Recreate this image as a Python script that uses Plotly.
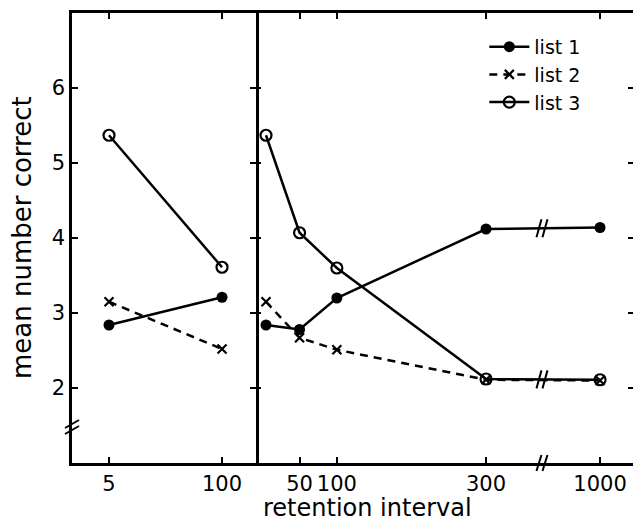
import plotly.graph_objects as go

# ---------------- data ----------------
left_x = [5, 100]
left_list1 = [2.84, 3.21]
left_list2 = [3.15, 2.52]
left_list3 = [5.37, 3.61]

right_x = [5, 50, 100, 300, 1000]
right_list1 = [2.84, 2.78, 3.20, 4.12, 4.14]
right_list2 = [3.15, 2.67, 2.51, 2.11, 2.10]
right_list3 = [5.37, 4.07, 3.60, 2.12, 2.11]

y_ticks = [2, 3, 4, 5, 6]
left_ticks = [5, 100]
right_ticks = [50, 100, 300, 1000]
series_names = ["list 1", "list 2", "list 3"]

# broken x-axis for the right panel: values above 300 are compressed
BREAK_AT = 300
COMPRESS = 0.2183


def brk(v):
    return v if v <= BREAK_AT else BREAK_AT + (v - BREAK_AT) * COMPRESS


BREAK_MARK_X = 375  # display position of the axis break

FONT = "DejaVu Sans"
BLACK = "black"
LW = 2.5

styles = [
    dict(line=dict(color=BLACK, width=LW, dash="solid"),
         marker=dict(symbol="circle", size=11, color=BLACK)),
    dict(line=dict(color=BLACK, width=LW, dash="8px,6px"),
         marker=dict(symbol="x-thin", size=9, line=dict(color=BLACK, width=2.2))),
    dict(line=dict(color=BLACK, width=LW, dash="solid"),
         marker=dict(symbol="circle-open", size=11, color=BLACK, line=dict(width=2.2))),
]

fig = go.Figure()

left_series = [left_list1, left_list2, left_list3]
right_series = [right_list1, right_list2, right_list3]

for i, (name, ys) in enumerate(zip(series_names, left_series)):
    fig.add_trace(go.Scatter(x=left_x, y=ys, mode="lines+markers", name=name,
                             showlegend=False, xaxis="x", yaxis="y",
                             cliponaxis=False, **styles[i]))

for i, (name, ys) in enumerate(zip(series_names, right_series)):
    fig.add_trace(go.Scatter(x=[brk(v) for v in right_x], y=ys, mode="lines+markers",
                             name=name, showlegend=True, xaxis="x2", yaxis="y2",
                             cliponaxis=False, **styles[i]))

# right-hand tick marks (no axis line)
fig.add_trace(go.Scatter(x=[None], y=[None], xaxis="x2", yaxis="y3",
                         showlegend=False, hoverinfo="skip"))

DIV = (256 - 72) / 561.0

axis_common = dict(linecolor=BLACK, linewidth=2.5, ticks="inside",
                   tickcolor=BLACK, tickwidth=2, showgrid=False, zeroline=False,
                   tickfont=dict(family=FONT, size=21, color=BLACK))

fig.update_layout(
    width=633, height=524,
    margin=dict(l=72, r=0, t=13, b=61),
    paper_bgcolor="white", plot_bgcolor="white",
    font=dict(family=FONT, color=BLACK),
    xaxis=dict(domain=[0, DIV], type="log", range=[0.273, 2.391],
               tickvals=left_ticks, ticktext=[str(v) for v in left_ticks],
               showline=True, mirror="ticks", ticklen=6, anchor="y", **axis_common),
    xaxis2=dict(domain=[DIV, 1], range=[-8.4, 497],
                tickvals=[brk(v) for v in right_ticks],
                ticktext=[str(v) for v in right_ticks],
                showline=True, mirror="ticks", ticklen=6, anchor="y2", **axis_common),
    yaxis=dict(range=[1, 7], tickvals=y_ticks, ticklen=6, mirror="ticks",
               showline=True, anchor="x", **axis_common),
    yaxis2=dict(range=[1, 7], tickvals=y_ticks, ticklen=5, showticklabels=False,
                showline=False, anchor="x2", **axis_common),
    yaxis3=dict(range=[1, 7], tickvals=y_ticks, ticks="inside", ticklen=5,
                tickwidth=2, tickcolor=BLACK, showline=False, showgrid=False,
                zeroline=False, showticklabels=False, overlaying="y2",
                side="right", anchor="x2"),
    showlegend=True,
    legend=dict(x=0.735, y=0.967, xanchor="left", yanchor="top",
                font=dict(family=FONT, size=19, color=BLACK),
                bgcolor="rgba(0,0,0,0)", tracegroupgap=0, itemwidth=40),
)

# axis titles
fig.add_annotation(text="mean number correct", xref="paper", yref="paper",
                   x=-0.089, y=0.5, textangle=-90, showarrow=False,
                   font=dict(family=FONT, size=26, color=BLACK),
                   xanchor="center", yanchor="middle")
fig.add_annotation(text="retention interval", xref="paper", yref="paper",
                   x=0.5276, y=-61 / 450.0, showarrow=False,
                   font=dict(family=FONT, size=24, color=BLACK),
                   xanchor="center", yanchor="bottom")


# break marks
def slash_pair(xref, yref, xa, ya, half_w, half_h, gap):
    for off in (-gap / 2.0, gap / 2.0):
        fig.add_shape(type="line", xref=xref, yref=yref,
                      xsizemode="pixel", ysizemode="pixel",
                      xanchor=xa, yanchor=ya,
                      x0=off - half_w, x1=off + half_w,
                      y0=-half_h, y1=half_h,
                      line=dict(color=BLACK, width=2))


# y-axis break
for off in (-3, 3):
    fig.add_shape(type="line", xref="paper", yref="y", xsizemode="pixel",
                  ysizemode="pixel", xanchor=0, yanchor=1.48,
                  x0=-7, x1=7, y0=off - 4, y1=off + 4,
                  line=dict(color=BLACK, width=2))
# x-axis break
slash_pair("x2", "paper", BREAK_MARK_X, 0, 2.5, 8, 6)
# line breaks on the data lines
y_top = (right_list1[3] + right_list1[4]) / 2.0
y_bot = (right_list3[3] + right_list3[4]) / 2.0
slash_pair("x2", "y2", BREAK_MARK_X, y_top, 2.5, 9, 6)
slash_pair("x2", "y2", BREAK_MARK_X, y_bot, 2.5, 9, 6)

fig.write_html("out.html")
